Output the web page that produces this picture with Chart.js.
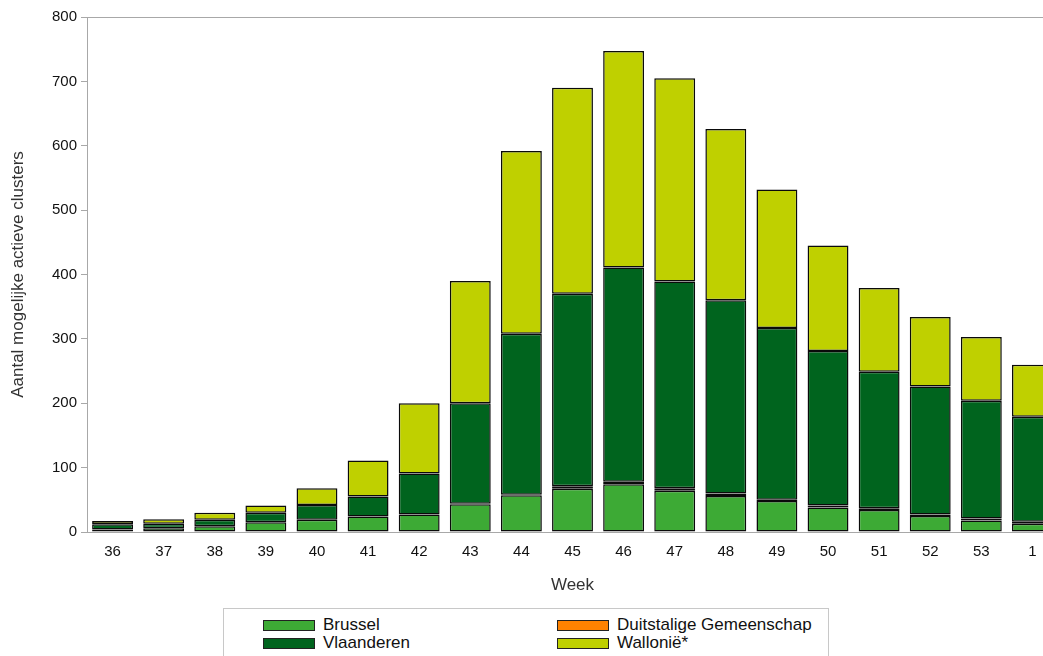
<!DOCTYPE html>
<html>
<head>
<meta charset="utf-8">
<script src="https://cdn.jsdelivr.net/npm/chart.js@4/dist/chart.umd.min.js"></script>
<style>
  body { margin: 0; background: #fff; overflow: hidden; font-family: "Liberation Sans", Arial, sans-serif; }
  #wrap { position: relative; width: 1043px; height: 656px; overflow: hidden; }
  #chart { position: absolute; left: 0; top: 0; }
  #legend {
    position: absolute; left: 223px; top: 608px; width: 606px; height: 60px;
    border: 1px solid #c8c8c8; box-sizing: border-box;
    display: grid; grid-template-columns: 294px 1fr; grid-auto-rows: 18px;
    padding: 7px 0 0 39px; font-size: 17px; color: #111;
  }
  .item { display: flex; align-items: center; white-space: nowrap; }
  .swatch { width: 50px; height: 9px; border: 1px solid #222; margin-right: 8px; }
</style>
</head>
<body>
<div id="wrap">
  <canvas id="chart" width="1062" height="600"></canvas>
  <div id="legend"></div>
</div>
<script>
// weken
const weeks = ["36", "37", "38", "39", "40", "41", "42", "43", "44", "45", "46", "47", "48", "49", "50", "51", "52", "53", "1"];

// aantal clusters per regio
const brussel     = [4, 6, 9, 15, 19, 24, 27, 43, 57, 67, 74, 64, 56, 48, 38, 34, 25, 18, 13];
const duitstalig  = [0, 0, 0, 0, 0, 0, 0, 1, 1, 4, 4, 4, 4, 2, 3, 3, 2, 3, 3];
const vlaanderen  = [8, 7, 10, 15, 23, 31, 64, 156, 250, 299, 333, 321, 300, 267, 240, 212, 199, 183, 163];
const wallonie    = [5, 7, 11, 11, 26, 56, 109, 190, 284, 320, 336, 316, 266, 215, 164, 130, 108, 99, 81];

const yTicks = [0, 100, 200, 300, 400, 500, 600, 700, 800];

const axisGrey = "#a8a8a8";

function ds(label, data, color) {
    return {
        label: label,
        data: data,
        backgroundColor: color,
        borderColor: "#0a0a0a",
        borderWidth: 1.5,
        borderSkipped: false,
        barPercentage: 0.8,
        categoryPercentage: 1.0
    };
}

const chart = new Chart(document.getElementById("chart").getContext("2d"), {
    type: "bar",
    data: {
        labels: weeks,
        datasets: [
            ds("Brussel", brussel, "#3daa35"),
            ds("Duitstalige Gemeenschap", duitstalig, "#ff8200"),
            ds("Vlaanderen", vlaanderen, "#00641e"),
            ds("Wallonië*", wallonie, "#bfd000")
        ]
    },
    options: {
        responsive: false,
        animation: false,
        devicePixelRatio: 1,
        layout: { padding: { top: 17, right: 4, left: 0, bottom: 0 } },
        plugins: {
            legend: { display: false },
            tooltip: { enabled: false }
        },
        scales: {
            x: {
                stacked: true,
                grid: { display: false, drawTicks: false },
                border: { display: true, color: axisGrey, width: 1 },
                ticks: {
                    autoSkip: false, maxRotation: 0, padding: 11,
                    color: "#111", font: { family: "Liberation Sans", size: 15 }
                },
                title: {
                    display: true, text: "Week", color: "#333",
                    font: { family: "Liberation Sans", size: 17 },
                    padding: { top: 0, bottom: 4 }
                },
                afterFit: function(scale) { scale.height = 68; }
            },
            x2: {
                type: "category",
                position: "top",
                labels: weeks,
                grid: { display: false, drawTicks: false },
                border: { display: true, color: axisGrey, width: 1 },
                ticks: { display: false },
                afterFit: function(scale) { scale.height = 0; }
            },
            y: {
                stacked: true,
                min: 0,
                max: 800,
                afterBuildTicks: function(scale) {
                    scale.ticks = yTicks.map(v => ({ value: v }));
                },
                grid: { display: true, drawOnChartArea: false, tickLength: 6, color: axisGrey },
                border: { display: true, color: axisGrey, width: 1 },
                ticks: {
                    padding: 4, color: "#111",
                    font: { family: "Liberation Sans", size: 15 }
                },
                title: {
                    display: true, text: "Aantal mogelijke actieve clusters", color: "#333",
                    font: { family: "Liberation Sans", size: 17 },
                    padding: { top: 8, bottom: 0 }
                },
                afterFit: function(scale) { scale.width = 87; }
            }
        }
    }
});

// legende opbouwen uit de datasets
const legendBox = document.getElementById("legend");
chart.data.datasets.forEach(d => {
    const item = document.createElement("div");
    item.className = "item";
    const sw = document.createElement("span");
    sw.className = "swatch";
    sw.style.background = d.backgroundColor;
    const txt = document.createElement("span");
    txt.textContent = d.label;
    item.appendChild(sw);
    item.appendChild(txt);
    legendBox.appendChild(item);
});
</script>
</body>
</html>
